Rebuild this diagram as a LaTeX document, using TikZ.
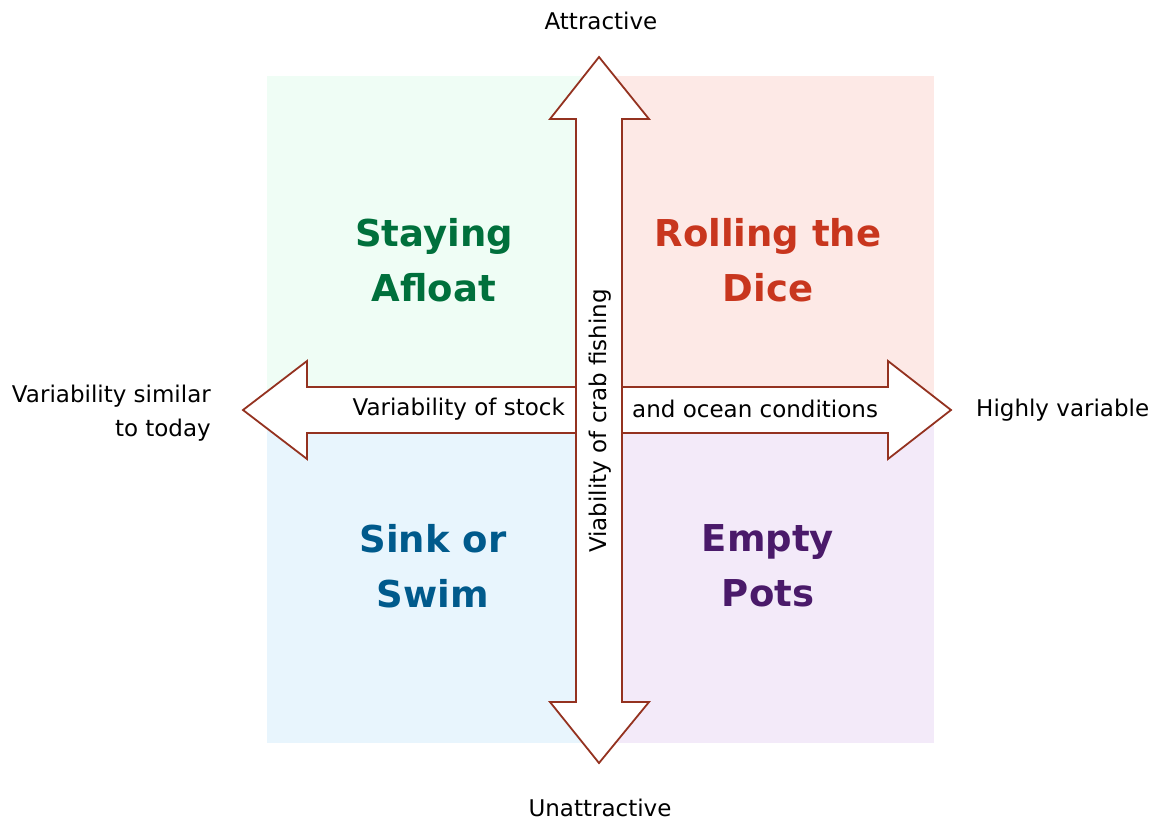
\documentclass[tikz,border=0pt]{standalone}
\usepackage{fontspec}
\setmainfont{DejaVu Sans}
\definecolor{qgreen}{HTML}{EFFDF5}
\definecolor{qred}{HTML}{FDE9E6}
\definecolor{qblue}{HTML}{E8F5FD}
\definecolor{qpurple}{HTML}{F3EAF9}
\definecolor{tgreen}{HTML}{00703C}
\definecolor{tred}{HTML}{C8361E}
\definecolor{tblue}{HTML}{005A8C}
\definecolor{tpurple}{HTML}{4A1A6A}
\definecolor{arrowline}{HTML}{943220}
\begin{document}
\begin{tikzpicture}[x=1pt,y=-1pt,
  lbl/.style={font=\fontsize{23}{34}\selectfont, text=black, inner sep=0pt, align=right},
  title/.style={font=\fontsize{37}{55}\selectfont\bfseries, inner sep=0pt, align=center},
  arrowshape/.style={draw=arrowline, fill=white, line width=1.8pt, line join=miter}]
\useasboundingbox (0,0) rectangle (1154,823);
% quadrants
\fill[qgreen] (267,76) rectangle (599,410);
\fill[qred] (599,76) rectangle (934,410);
\fill[qblue] (267,410) rectangle (599,743);
\fill[qpurple] (599,410) rectangle (934,743);
% horizontal double arrow
\draw[arrowshape] (243,410) -- (307,361) -- (307,387) -- (888,387) -- (888,361) -- (951,410)
  -- (888,459) -- (888,433) -- (307,433) -- (307,459) -- cycle;
% vertical double arrow
\draw[arrowshape] (599,57) -- (649,119) -- (622,119) -- (622,702) -- (649,702) -- (599,763)
  -- (550,702) -- (576,702) -- (576,119) -- (550,119) -- cycle;
% titles
\node[title, text=tgreen] (stay) at (434,260) {Staying\\Afloat};
\node[title, text=tred] (roll) at (768,260) {Rolling the\\Dice};
\node[title, text=tblue] (sink) at (433,566) {Sink or\\Swim};
\node[title, text=tpurple] (empty) at (768,566) {Empty\\Pots};
% labels
\node[lbl] (attr) at (601,21) {Attractive};
\node[lbl] (unattr) at (600,808) {Unattractive};
\node[lbl, anchor=east] (simil) at (211,413) {Variability similar\\to today};
\node[lbl, anchor=west] (high) at (976,410) {Highly variable};
\node[lbl, anchor=east] (stock) at (565,409) {Variability of stock};
\node[lbl, anchor=west] (ocean) at (632,409) {and ocean conditions};
\node[lbl, rotate=90] (viab) at (600,421) {Viability of crab fishing};
\end{tikzpicture}
\end{document}
